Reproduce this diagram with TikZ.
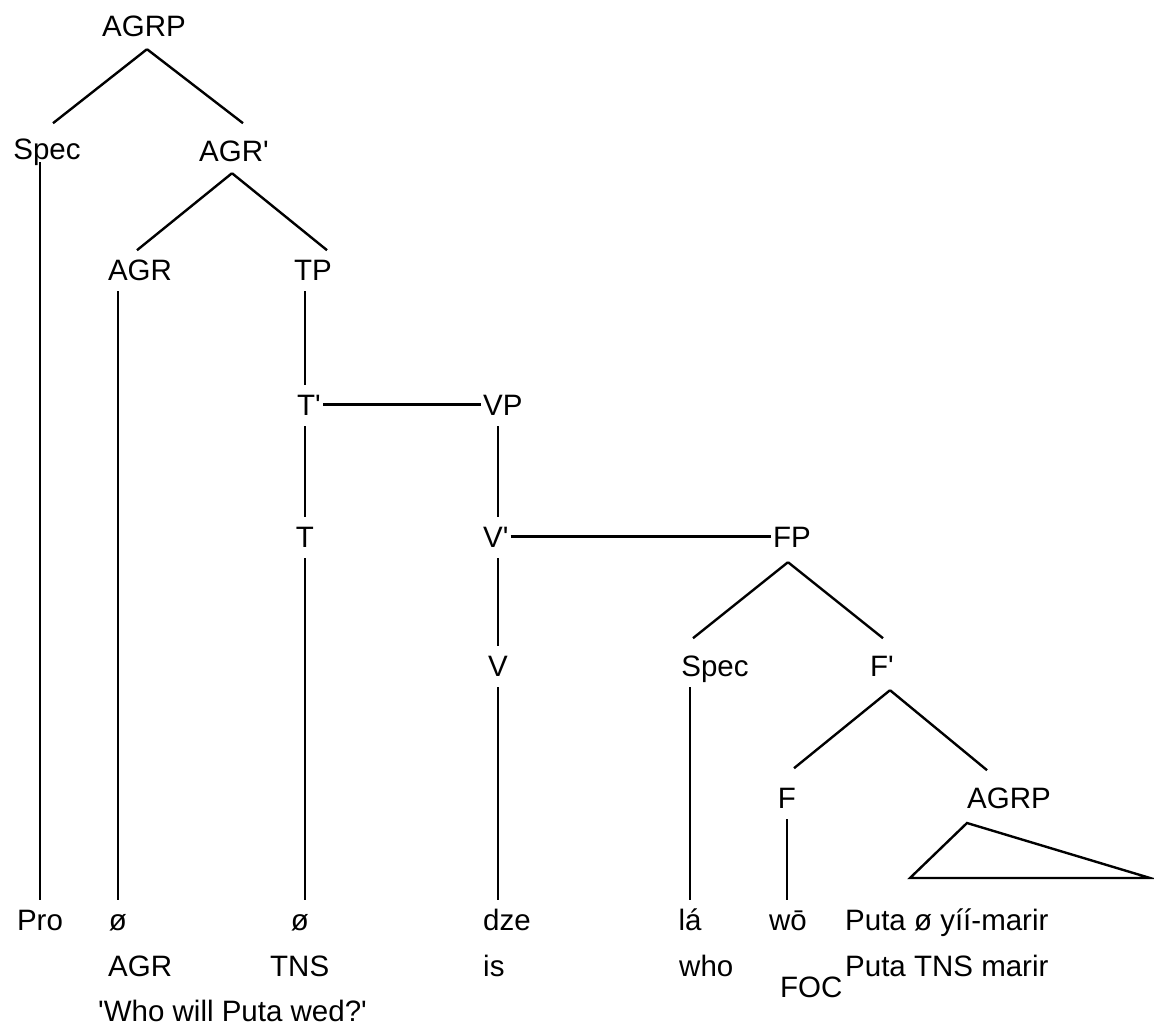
\documentclass[tikz,border=0pt]{standalone}
\usepackage{fontspec}
\setmainfont{Liberation Sans}[Ligatures=TeXOff]
\usetikzlibrary{calc}
\begin{document}
\begin{tikzpicture}[x=1pt,y=-1pt,
  lab/.style={font=\fontsize{29.5}{34}\selectfont, inner sep=0pt, text height=21pt, text depth=0pt, anchor=base},
  wrd/.style={lab, anchor=base west},
  br/.style={line width=2.4pt},
  vl/.style={line width=2.4pt, shorten <=11pt, shorten >=9pt},
  hl/.style={line width=2.4pt, shorten <=2pt, shorten >=2pt}]
\useasboundingbox (0,0) rectangle (1154,1027);
% tree labels
\node[lab] (agrp)   at (144,37)  {AGRP};
\node[lab] (spec1)  at (47,160)  {Spec};
\node[lab] (agrbar) at (234,162) {AGR'};
\node[lab] (agr)    at (140,280) {AGR};
\node[lab] (tp)     at (313,280) {TP};
\node[wrd] (tbar)   at (297,415) {T'};
\node[wrd] (vp)     at (483,415) {VP};
\node[lab] (t)      at (305,547) {T};
\node[wrd] (vbar)   at (483,547) {V'};
\node[lab] (fp)     at (792,547) {FP};
\node[lab] (v)      at (498,676) {V};
\node[lab] (spec2)  at (715,676) {Spec};
\node[wrd] (fbar)   at (870,676) {F'};
\node[lab] (f)      at (787,808) {F};
\node[lab] (agrp2)  at (1009,808) {AGRP};
% words
\node[lab] (pro) at (40,930) {Pro};
\node[lab] (o1)  at (118,930) {ø};
\node[lab] (o2)  at (300,930) {ø};
\node[wrd] (dze) at (483,930) {dze};
\node[lab] (la)  at (690,930) {lá};
\node[lab] (wo)  at (788,930) {wō};
\node[wrd] (puta1) at (845,930) {Puta ø yíí-marir};
\node[wrd] (g1) at (108,976) {AGR};
\node[wrd] (g2) at (270,976) {TNS};
\node[wrd] (g3) at (483,976) {is};
\node[wrd] (g4) at (679,976) {who};
\node[wrd] (g5) at (780,997) {FOC};
\node[wrd] (puta2) at (845,976) {Puta TNS marir};
\node[wrd] (tr) at (98,1021) {'Who will Puta wed?'};
% branches
\draw[br] ($(agrp.south)+(3,12)$) -- ++(-94,74) coordinate (e1);
\draw[br] ($(agrp.south)+(3,12)$) -- ++(96,74) coordinate (e2);
\draw[br] ($(agrbar.south)+(-2,11)$) -- ++(-95,77) coordinate (e3);
\draw[br] ($(agrbar.south)+(-2,11)$) -- ++(95,77) coordinate (e4);
\draw[br] ($(fp.south)+(-4,15)$) -- ++(-95,76) coordinate (e5);
\draw[br] ($(fp.south)+(-4,15)$) -- ++(95,76) coordinate (e6);
\draw[br] ($(fbar.south)+(8,14)$) -- ++(-96,78) coordinate (e7);
\draw[br] ($(fbar.south)+(8,14)$) -- ++(97,80) coordinate (e8);
% vertical lines
\draw[vl, shorten <=2pt] (pro.north |- spec1.south) -- (pro.north);
\draw[vl] (o1.north |- agr.south) -- (o1.north);
\draw[vl] (t.north |- tp.south) -- (t.north |- tbar.north);
\draw[vl] (t.north |- tbar.south) -- (t.north);
\draw[vl] (t.south) -- (t.south |- o2.north);
\draw[vl] (v.north |- vp.south) -- (v.north |- vbar.north);
\draw[vl] (v.north |- vbar.south) -- (v.north);
\draw[vl] (v.south) -- (v.south |- dze.north);
\draw[vl] (la.north |- spec2.south) -- (la.north);
\draw[vl] (f.south) -- (f.south |- wo.north);
% horizontal lines
\draw[hl] (tbar.east) -- (vp.west);
\draw[hl] (vbar.east) -- (fp.west);
% triangle
\draw[line width=2.4pt, line join=miter] (967,823) -- (910,878) -- (1150,878) -- cycle;
\end{tikzpicture}
\end{document}
